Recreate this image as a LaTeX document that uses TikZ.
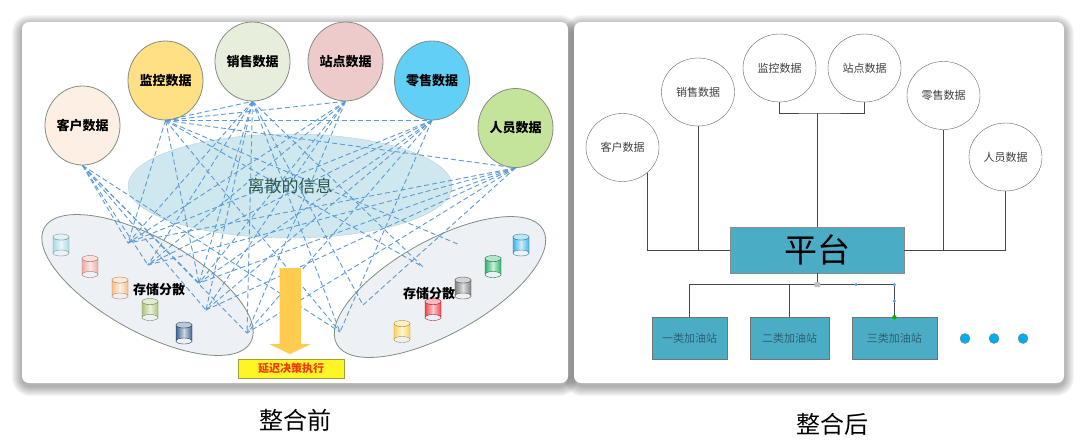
\documentclass[tikz,border=0pt]{standalone}
\usepackage{fontspec}
\setmainfont{Noto Sans CJK SC}
\usetikzlibrary{shapes.geometric}

\definecolor{scatterblue}{HTML}{5B9BD5}
\definecolor{platecol}{HTML}{4BACC6}
\definecolor{groupcol}{HTML}{EDF0F5}
\definecolor{cloudcol}{HTML}{CFE8EF}
\definecolor{rimcol}{HTML}{7F8F80}
\definecolor{linecol}{HTML}{484848}
\definecolor{dotcol}{HTML}{00ADEF}
\definecolor{arrowcol}{HTML}{FFCC4D}
\definecolor{dkehu}{HTML}{FDEFE4}
\definecolor{djiankong}{HTML}{FFE084}
\definecolor{dxiaoshou}{HTML}{E8EEDC}
\definecolor{dzhandian}{HTML}{EDCBCB}
\definecolor{dlingshou}{HTML}{62CFF7}
\definecolor{drenyuan}{HTML}{C5E49B}
\definecolor{cloudtextcol}{HTML}{2E5A50}
\definecolor{stationtext}{HTML}{2F5F70}
\definecolor{delayrim}{HTML}{9AA03A}
\definecolor{delaytext}{HTML}{F03A10}
\definecolor{cyla}{HTML}{A8DCE4}
\definecolor{cylb}{HTML}{EFA9A0}
\definecolor{cylc}{HTML}{F9BE8A}
\definecolor{cyld}{HTML}{A9C77A}
\definecolor{cyle}{HTML}{3E628F}
\definecolor{cylf}{HTML}{40B4EC}
\definecolor{cylg}{HTML}{2FB36B}
\definecolor{cylh}{HTML}{808080}
\definecolor{cyli}{HTML}{F4404A}
\definecolor{cylj}{HTML}{F8D55A}

\tikzset{
  pics/drum/.style={code={
    \path [draw=#1!70!black,left color=#1,right color=#1,middle color=#1!25!white]
      (-8,-8) -- (-8,8) arc [start angle=180,end angle=360,x radius=8,y radius=3] -- (8,-8)
      arc [start angle=0,end angle=180,x radius=8,y radius=3] -- cycle;
    \draw [#1!70!black,fill=#1!35!white] (0,-8) ellipse [x radius=8,y radius=3];
    \draw [#1!70!black,thin] (-8,8) arc [start angle=180,end angle=0,x radius=8,y radius=3];
  }}
}

\begin{document}
\begin{tikzpicture}[x=1pt,y=-1pt,
datacirc/.style={ellipse,inner sep=0pt,
  minimum width=75pt,minimum height=79pt,
  draw=rimcol,thick,
  font=\fontsize{13}{13}\selectfont\bfseries
},
plaincirc/.style={ellipse,inner sep=0pt,
  minimum width=73pt,minimum height=68pt,
  draw=black!60,fill=white,
  text=black!75,font=\fontsize{11}{11}\selectfont
},
group/.style={ellipse,inner sep=0pt,
  minimum width=236pt,minimum height=94pt,
  draw=rimcol,fill=groupcol,thick
},
grouptext/.style={font=\fontsize{13}{13}\selectfont\bfseries},
scatter/.style={scatterblue,dash pattern=on 5pt off 3pt,line width=.9pt},
station/.style={rectangle,inner sep=0pt,
  minimum height=41.5pt,
  draw=black!55,fill=platecol,
  text=stationtext,font=\fontsize{11}{11}\selectfont
},
wire/.style={linecol,line width=1pt},
handle/.style={circle,inner sep=0pt,minimum size=3.5pt,fill=#1},
more/.style={circle,inner sep=0pt,minimum size=10pt,draw=black!50,fill=dotcol},
title/.style={font=\fontsize{24}{24}\selectfont}
]

\useasboundingbox (0,0) rectangle (1086,440);

% panels
\foreach \s in {10,...,1}{
  \fill [black,opacity=.035,rounded corners=8pt+\s pt] (22-\s,25-\s) rectangle (568+\s,386+\s);
  \fill [black,opacity=.035,rounded corners=8pt+\s pt] (574-\s,25-\s) rectangle (1064+\s,386+\s);
}
\fill [white,rounded corners=7pt] (22,22) rectangle (568,383);
\fill [white,rounded corners=7pt] (574,22) rectangle (1064,383);

% before
\node (cloud) [ellipse,inner sep=0pt,minimum width=324pt,minimum height=104pt,fill=cloudcol,draw=cloudcol!90!black] at (290,186) {};
\node (leftgroup) [group,rotate=-29] at (147.5,285) {};
\node (rightgroup) [group,rotate=29] at (440,287) {};

\node (kehu) [datacirc,fill=dkehu] at (82.5,125.5) {客户数据};
\node (jiankong) [datacirc,fill=djiankong] at (165.5,80.5) {监控数据};
\node (xiaoshou) [datacirc,fill=dxiaoshou] at (252.5,61.5) {销售数据};
\node (zhandian) [datacirc,fill=dzhandian] at (345.5,61.5) {站点数据};
\node (lingshou) [datacirc,fill=dlingshou] at (432,80.5) {零售数据};
\node (renyuan) [datacirc,fill=drenyuan] at (515.5,128) {人员数据};

\coordinate (la) at (128,243);
\coordinate (lb) at (148,265);
\coordinate (lc) at (199,283);
\coordinate (ld) at (206,310);
\coordinate (le) at (247,333);
\coordinate (ra) at (460,245);
\coordinate (rb) at (423,267);
\coordinate (rc) at (363,305);
\coordinate (rd) at (340,332);

\foreach \src/\dstlist in {kehu/{la,lb,lc,ld,le,rd},
    jiankong/{la,lc,ra,rb,rd,xiaoshou.south,zhandian.south,lingshou.south,renyuan.south},
    xiaoshou/{la,lb,lc,ld,le,rb,rc,rd},
    zhandian/{la,lb,lc,ld,le},
    lingshou/{la,lb,lc,ld,le,rd},
    renyuan/{la,lb,lc,ld,le,rc}}{
  \foreach \dst in \dstlist
    \draw [scatter] (\src.south) -- (\dst);
}

\node (cloudtext) [text=cloudtextcol,font=\fontsize{17}{17}\selectfont] at (290,186) {离散的信息};

\foreach \x/\y/\c in {61/245/cyla,90/266.5/cylb,120/288/cylc,150/309.5/cyld,184/333/cyle,
    521/245/cylf,493/266.5/cylg,463/288/cylh,433/309.5/cyli,402/331.5/cylj}
  \pic at (\x,\y) {drum=\c};

\node (lefttext) [grouptext] at (159,290) {存储分散};
\node (righttext) [grouptext] at (429,294) {存储分散};

\fill [arrowcol] (279.5,268) -- (301,268) -- (301,344) -- (311,344) -- (290,354) -- (269,344) -- (279.5,344) -- cycle;
\node (delay) [rectangle,inner sep=0pt,minimum width=105.5pt,minimum height=19pt,
  draw=delayrim,fill=yellow!85!white,
  text=delaytext,font=\fontsize{11}{11}\selectfont\bfseries] at (291.2,368.5) {延迟决策执行};

% after
\node (pingtai) [rectangle,inner sep=0pt,minimum width=173.3pt,minimum height=45.5pt,
  draw=black!45,fill=platecol,font=\fontsize{33}{33}\selectfont] at (817.3,250.2) {平台};

\node (kehub) [plaincirc] at (622.5,147.5) {客户数据};
\node (xiaoshoub) [plaincirc] at (698,92) {销售数据};
\node (jiankongb) [plaincirc] at (779.5,68) {监控数据};
\node (zhandianb) [plaincirc] at (864.5,68) {站点数据};
\node (lingshoub) [plaincirc] at (943.5,95.5) {零售数据};
\node (renyuanb) [plaincirc] at (1005.5,157) {人员数据};

\node (stationa) [station,minimum width=75.5pt] at (689.7,338.2) {一类加油站};
\node (stationb) [station,minimum width=78.7pt] at (789.6,338.2) {二类加油站};
\node (stationc) [station,minimum width=85pt] at (894.4,338.2) {三类加油站};

\coordinate (topjoin) at (817.3,113);
\coordinate (botjoin) at (817.3,284.7);

\draw [wire] (kehub.-45) |- (pingtai.west);
\draw [wire] (xiaoshoub.south) -- (xiaoshoub.south |- pingtai.west);
\draw [wire] (renyuanb.south) |- (pingtai.east);
\draw [wire] (lingshoub.south) -- (lingshoub.south |- pingtai.east);
\draw [wire] (jiankongb.south) |- (topjoin) -| (zhandianb.south);
\draw [wire] (topjoin) -- (pingtai.north);
\draw [wire] (pingtai.south) -- (botjoin);
\draw [wire] (botjoin) -| (stationa.north);
\draw [wire] (botjoin) -| (stationb.north);
\draw [wire] (botjoin) -| (stationc.north);

\node (gripa) [rectangle,rounded corners=1pt,inner sep=0pt,minimum width=6pt,minimum height=5pt,fill=black!25] at (botjoin) {};
\node (gripb) [handle=blue!50!cyan!70] at (856,284.7) {};
\node (gripc) [handle=blue!50!cyan!70] at (894.4,284.7) {};
\node (gripd) [handle=blue!50!cyan!70] at (894.4,301) {};
\node (gripe) [handle=green!70!black,minimum size=4.5pt] at (stationc.north) {};

\node (morea) [more] at (965,338.5) {};
\node (moreb) [more] at (994,338.5) {};
\node (morec) [more] at (1023,338.5) {};

% captions
\node (before) [title] at (295,420) {整合前};
\node (after) [title] at (832,424) {整合后};

\end{tikzpicture}
\end{document}
